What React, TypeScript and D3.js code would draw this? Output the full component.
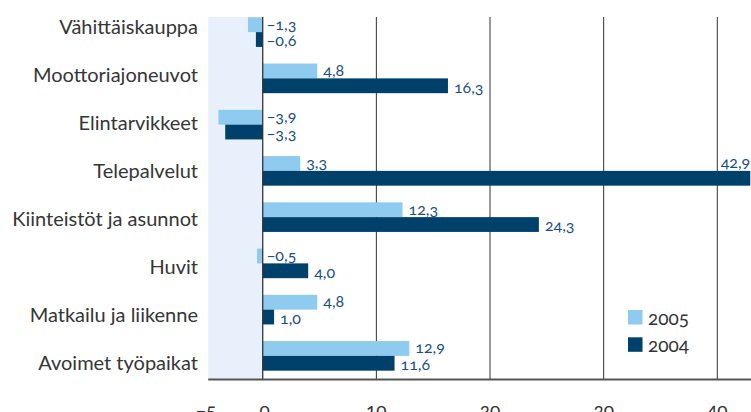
import React, { useEffect, useRef } from "react";
import * as d3 from "d3";

// data
const categories = [
  "Vähittäiskauppa",
  "Moottoriajoneuvot",
  "Elintarvikkeet",
  "Telepalvelut",
  "Kiinteistöt ja asunnot",
  "Huvit",
  "Matkailu ja liikenne",
  "Avoimet työpaikat",
];
const values2005 = [-1.3, 4.8, -3.9, 3.3, 12.3, -0.5, 4.8, 12.9];
const values2004 = [-0.6, 16.3, -3.3, 42.9, 24.3, 4.0, 1.0, 11.6];
const seriesNames = ["2005", "2004"];
const seriesColors = ["#8fcaef", "#00416c"];
const xTicks = [-5, 0, 10, 20, 30, 40];
const gridTicks = [10, 20, 30, 40];

const fmt = (v: number) => (v < 0 ? "\u2212" : "") + Math.abs(v).toFixed(1).replace(".", ",");

export default function App() {
  const ref = useRef<SVGSVGElement>(null);

  useEffect(() => {
    const svg = d3.select(ref.current);
    svg.selectAll("*").remove();

    const width = 751,
      height = 412;
    const top = 17,
      bottom = 379.5;
    const font = "Lato, 'Open Sans', sans-serif";

    // x scale
    const x = d3.scaleLinear().domain([-5, 43]).range([205.9, 751.4]);
    // y for bars
    const yBar = d3
      .scaleBand<string>()
      .domain(categories)
      .range([9, 379])
      .paddingInner(0.36)
      .paddingOuter(0.18);
    // y for category labels (they sit on a slightly different grid)
    const yLab = d3.scaleBand<string>().domain(categories).range([2.7, 386.7]);
    const barH = yBar.bandwidth() / 2;

    // shaded negative area
    svg
      .append("rect")
      .attr("x", x(-4.8))
      .attr("y", top)
      .attr("width", x(0) - x(-4.8))
      .attr("height", bottom - top)
      .attr("fill", "#e8f1fb");

    // gridlines
    svg
      .selectAll(".grid")
      .data(gridTicks)
      .enter()
      .append("line")
      .attr("x1", (d) => x(d))
      .attr("x2", (d) => x(d))
      .attr("y1", top)
      .attr("y2", bottom)
      .attr("stroke", "#333")
      .attr("stroke-width", 1);

    // bars
    const series = [values2005, values2004];
    series.forEach((vals, s) => {
      svg
        .selectAll(".bar" + s)
        .data(vals)
        .enter()
        .append("rect")
        .attr("x", (d) => x(Math.min(0, d)))
        .attr("y", (d, i) => (yBar(categories[i]) as number) + s * barH)
        .attr("width", (d) => Math.abs(x(d) - x(0)))
        .attr("height", barH)
        .attr("fill", seriesColors[s]);
    });

    // zero line
    svg
      .append("line")
      .attr("x1", x(0))
      .attr("x2", x(0))
      .attr("y1", top)
      .attr("y2", bottom)
      .attr("stroke", "#333")
      .attr("stroke-width", 1.3);

    // value labels
    series.forEach((vals, s) => {
      svg
        .selectAll(".val" + s)
        .data(vals)
        .enter()
        .append("text")
        .attr("x", (d) => (d > 40 ? x(d) : d < 0 ? x(0) + 4 : x(d) + 6))
        .attr("y", (d, i) => {
          const y0 = (yBar(categories[i]) as number) + s * barH;
          return d > 40 ? y0 - 3 : y0 + barH - (s === 0 ? 2.5 : 0.5);
        })
        .attr("text-anchor", (d) => (d > 40 ? "end" : "start"))
        .attr("font-family", font)
        .attr("font-size", 16)
        .attr("fill", "#1c4f7e")
        .style("font-feature-settings", "'onum'")
        .text((d) => fmt(d));
    });

    // category labels
    svg
      .selectAll(".cat")
      .data(categories)
      .enter()
      .append("text")
      .attr("x", 198)
      .attr("y", (d) => (yLab(d) as number) + yLab.bandwidth() / 2 + 7.3)
      .attr("text-anchor", "end")
      .attr("font-family", font)
      .attr("font-size", 20)
      .attr("fill", "#363636")
      .text((d) => d);

    // x axis line
    svg
      .append("line")
      .attr("x1", x(-4.8))
      .attr("x2", width)
      .attr("y1", bottom)
      .attr("y2", bottom)
      .attr("stroke", "#555")
      .attr("stroke-width", 1.8);

    // tick labels
    svg
      .selectAll(".tick")
      .data(xTicks)
      .enter()
      .append("text")
      .attr("x", (d) => x(d) + (d === 0 ? 2 : 0))
      .attr("y", 417)
      .attr("text-anchor", "middle")
      .attr("font-family", font)
      .attr("font-size", 19)
      .attr("fill", "#333")
      .style("font-feature-settings", "'onum'")
      .text((d) => (d < 0 ? "\u2212" + Math.abs(d) : String(d)));

    // legend
    const lg = svg.append("g").attr("transform", "translate(628,310)");
    seriesNames.forEach((name, i) => {
      lg.append("rect")
        .attr("x", 0)
        .attr("y", i * 27.3)
        .attr("width", 14.5)
        .attr("height", 14.5)
        .attr("fill", seriesColors[i]);
      lg.append("text")
        .attr("x", 20)
        .attr("y", i * 27.3 + 15)
        .attr("font-family", font)
        .attr("font-size", 19)
        .attr("fill", "#333")
        .style("font-feature-settings", "'onum'")
        .text(name);
    });

    svg.attr("width", width).attr("height", height);
  }, []);

  return (
    <svg
      ref={ref}
      width={751}
      height={412}
      style={{ position: "absolute", left: 0, top: 0, background: "#fff" }}
    />
  );
}
